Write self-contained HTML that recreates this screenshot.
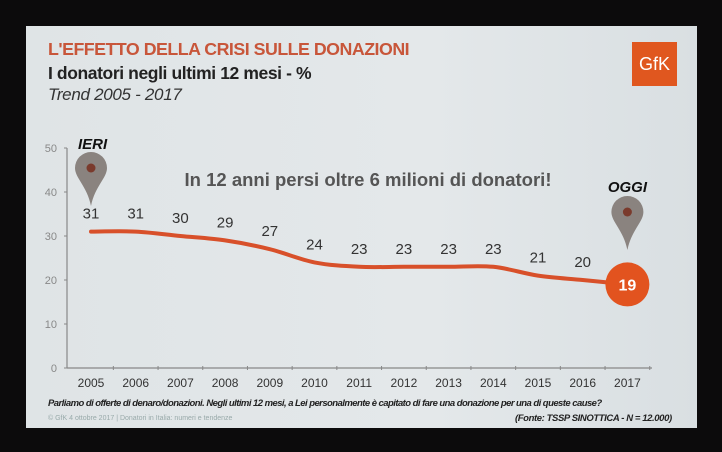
<!DOCTYPE html>
<html><head><meta charset="utf-8"><style>
body{margin:0;background:#0c0b0c;width:722px;height:452px;overflow:hidden;font-family:"Liberation Sans",sans-serif}
#slide{position:absolute;left:26px;top:26px;width:671px;height:402px;background:linear-gradient(90deg,#dfe4e6,#e4e8ea 60%,#d9dfe2)}
.t{position:absolute;white-space:nowrap}
</style></head><body>
<div id="slide"></div>
<div class="t" style="left:48px;top:39px;font-size:17.8px;font-weight:bold;color:#c8563a;letter-spacing:-0.5px">L'EFFETTO DELLA CRISI SULLE DONAZIONI</div>
<div class="t" style="left:48px;top:63px;font-size:17.5px;font-weight:bold;color:#222;letter-spacing:-0.4px">I donatori negli ultimi 12 mesi - %</div>
<div class="t" style="left:48px;top:85px;font-size:17px;font-style:italic;color:#333;letter-spacing:-0.3px">Trend 2005 - 2017</div>
<div style="position:absolute;left:632px;top:42px;width:45px;height:44px;background:#e0571f;color:#fff;font-size:18px;line-height:44px;text-align:center">GfK</div>
<svg id="chart" width="722" height="452" style="position:absolute;left:0;top:0"></svg>
<div class="t" style="left:48px;top:398px;font-size:9.5px;font-weight:bold;font-style:italic;color:#222;letter-spacing:-0.55px">Parliamo di offerte di denaro/donazioni. Negli ultimi 12 mesi, a Lei personalmente è capitato di fare una donazione per una di queste cause?</div>
<div class="t" style="left:48px;top:415px;font-size:7px;color:#9aa;">© GfK 4 ottobre 2017 | Donatori in Italia: numeri e tendenze</div>
<div class="t" style="left:515px;top:413px;font-size:9.5px;font-weight:bold;font-style:italic;color:#222;letter-spacing:-0.4px">(Fonte: TSSP SINOTTICA - N = 12.000)</div>
<script>
const years=["2005","2006","2007","2008","2009","2010","2011","2012","2013","2014","2015","2016","2017"];
const values=[31,31,30,29,27,24,23,23,23,23,21,20,19];
const yTicks=[0,10,20,30,40,50];
const NS="http://www.w3.org/2000/svg";
const svg=document.getElementById('chart');
const x0=91,xStep=44.7,yBase=368,yPer=4.4;
const X=i=>x0+i*xStep, Y=v=>yBase-v*yPer;
function el(tag,attrs,parent){const e=document.createElementNS(NS,tag);for(const k in attrs)e.setAttribute(k,attrs[k]);(parent||svg).appendChild(e);return e;}
let a=el('line',{x1:67,y1:Y(50),x2:67,y2:yBase,stroke:'#888','stroke-width':1.2});


let b=el('line',{x1:67,y1:yBase,x2:652,y2:yBase,stroke:'#888','stroke-width':1.2});


yTicks.forEach(v=>{
 el('line',{x1:64,y1:Y(v),x2:67,y2:Y(v),stroke:'#888'});
 const t=el('text',{x:57,y:Y(v)+4,'text-anchor':'end','font-size':11,fill:'#888','font-family':'Liberation Sans'});
 t.textContent=v;
 
 
});
years.forEach((yr,i)=>{
 el('line',{x1:X(i)+xStep/2,y1:yBase-2,x2:X(i)+xStep/2,y2:yBase+2,stroke:'#888'});
 const t=el('text',{x:X(i),y:yBase+19,'text-anchor':'middle','font-size':12,fill:'#333','font-family':'Liberation Sans'});
 t.textContent=yr;
 
 
});
const pts=values.map((v,i)=>[X(i),Y(v)]);
let d='M'+pts[0][0]+' '+pts[0][1];
for(let i=0;i<pts.length-1;i++){
 const p0=pts[Math.max(0,i-1)],p1=pts[i],p2=pts[i+1],p3=pts[Math.min(pts.length-1,i+2)];
 const c1=[p1[0]+(p2[0]-p0[0])/6,p1[1]+(p2[1]-p0[1])/6];
 const c2=[p2[0]-(p3[0]-p1[0])/6,p2[1]-(p3[1]-p1[1])/6];
 d+=` C${c1[0]} ${c1[1]} ${c2[0]} ${c2[1]} ${p2[0]} ${p2[1]}`;
}
const line=el('path',{d:d,fill:'none',stroke:'#d8502a','stroke-width':4,'stroke-linecap':'round'});


values.forEach((v,i)=>{
 if(i===values.length-1)return;
 const t=el('text',{x:X(i),y:Y(v)-13,'text-anchor':'middle','font-size':15,fill:'#333','font-family':'Liberation Sans'});
 t.textContent=v;
 
 
});
const li=values.length-1;
const c=el('circle',{cx:X(li),cy:Y(values[li]),r:22,fill:'#e2531f'});


const lt=el('text',{x:X(li),y:Y(values[li])+6,'text-anchor':'middle','font-size':16,'font-weight':'bold',fill:'#fff','font-family':'Liberation Sans'});
lt.textContent=values[li];


function pin(cx,top,tip,name){
 const r=16,cy=top+r;
 const p=el('path',{d:`M${cx} ${tip} C${cx-4} ${cy+18} ${cx-r} ${cy+10} ${cx-r} ${cy} A${r} ${r} 0 1 1 ${cx+r} ${cy} C${cx+r} ${cy+10} ${cx+4} ${cy+18} ${cx} ${tip}Z`,fill:'#8a837f'});
 
 
 el('circle',{cx:cx,cy:cy,r:4.5,fill:'#7a3a2c'});
}
pin(X(0),152,206,'ieri-pin');
pin(X(li),196,250,'oggi-pin');
const t1=el('text',{x:78,y:149,'font-size':15,'font-weight':'bold','font-style':'italic',fill:'#111','font-family':'Liberation Sans'});
t1.textContent='IERI';


const t2=el('text',{x:X(li),y:192,'text-anchor':'middle','font-size':15,'font-weight':'bold','font-style':'italic',fill:'#111','font-family':'Liberation Sans'});
t2.textContent='OGGI';


const t3=el('text',{x:368,y:186,'text-anchor':'middle','font-size':18.5,'font-weight':'bold',fill:'#555','font-family':'Liberation Sans'});
t3.textContent='In 12 anni persi oltre 6 milioni di donatori!';


</script>
</body></html>
